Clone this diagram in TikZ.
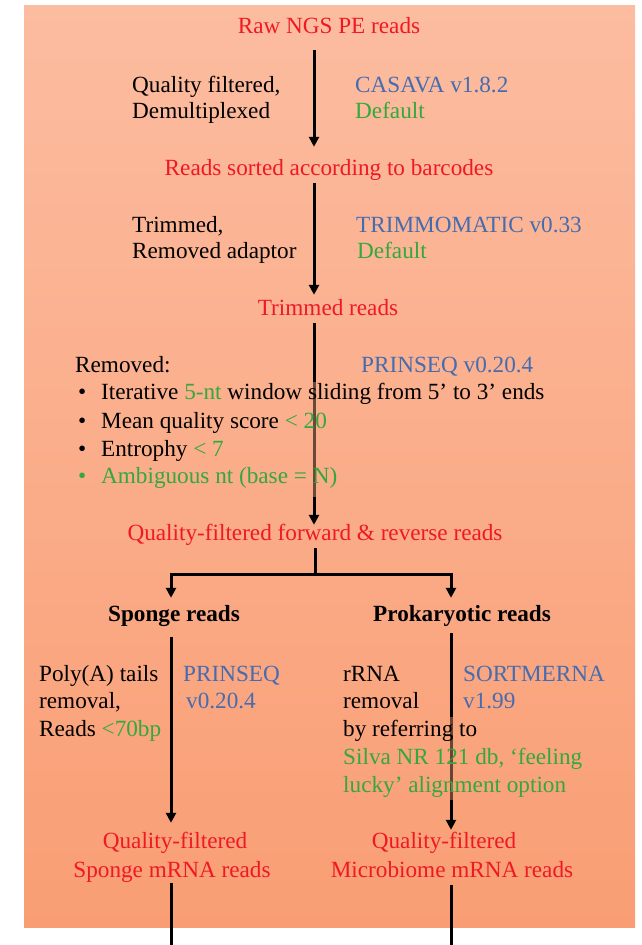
\documentclass[tikz,border=0pt]{standalone}
\usepackage{fontspec}
\setmainfont{Liberation Serif}
\usetikzlibrary{arrows.meta}
\pgfdeclarelayer{back}
\pgfdeclarelayer{mid}
\pgfsetlayers{back,mid,main}
\definecolor{tred}{RGB}{240,25,35}
\definecolor{tblue}{RGB}{70,108,176}
\definecolor{tgreen}{RGB}{52,168,60}
\definecolor{bgtop}{RGB}{252,188,160}
\definecolor{bgbot}{RGB}{249,158,116}
\definecolor{bgmida}{RGB}{251,174,139}
\definecolor{bgmidb}{RGB}{249,164,124}
\begin{document}
\fontsize{23.2}{27.6}\selectfont
\begin{tikzpicture}[x=1pt,y=-1pt,
  txt/.style={inner sep=0pt, text height=19pt, text depth=8pt},
  ctr/.style={txt, anchor=base},
  lft/.style={txt, anchor=base west},
  tr/.style={text=tred},
  tb/.style={text=tblue},
  tg/.style={text=tgreen},
  conn/.style={line width=3pt, draw=black},
  arr/.style={conn, -{Triangle[width=10pt,length=10pt]}},
  veil/.style={opacity=0.42}
]
\useasboundingbox (0,0) rectangle (641,945);

% ---- text nodes ----
\node[ctr,tr] (raw) at (329,33) {Raw NGS PE reads};
\node[lft] (qfl) at (132,92) {Quality filtered,};
\node[lft] (dmx) at (132,118) {Demultiplexed};
\node[lft,tb] (cas) at (355,92) {CASAVA v1.8.2};
\node[lft,tg] (defa) at (355,118) {Default};
\node[ctr,tr] (sorted) at (329,175) {Reads sorted according to barcodes};
\node[lft] (trm) at (132,232) {Trimmed,};
\node[lft] (rma) at (132,258) {Removed adaptor};
\node[lft,tb] (tmm) at (356,232) {TRIMMOMATIC v0.33};
\node[lft,tg] (defb) at (357,258) {Default};
\node[ctr,tr] (trimmed) at (328,315) {Trimmed reads};
\node[lft] (rem) at (75,372) {Removed:};
\node[lft,tb] (prs) at (361,372) {PRINSEQ v0.20.4};
\node[lft] (b1) at (78,399) {\makebox[23pt][l]{•}Iterative {\color{tgreen}5-nt} window sliding from 5’ to 3’ ends};
\node[lft] (b2) at (78,428) {\makebox[23pt][l]{•}Mean quality score {\color{tgreen}< 20}};
\node[lft] (b3) at (78,456) {\makebox[23pt][l]{•}Entrophy {\color{tgreen}< 7}};
\node[lft,tg] (b4) at (78,483) {\makebox[23pt][l]{•}Ambiguous nt (base = N)};
\node[ctr,tr] (qf) at (315,540) {Quality-filtered forward \& reverse reads};
\node[ctr,font=\bfseries] (sponge) at (174,621) {Sponge reads};
\node[ctr,font=\bfseries] (prok) at (462,621) {Prokaryotic reads};
\node[lft] (pa1) at (39,681) {Poly(A) tails};
\node[lft] (pa2) at (39,708) {removal,};
\node[lft] (pa3) at (39,736) {Reads {\color{tgreen}<70bp}};
\node[lft,tb] (ps1) at (183,681) {PRINSEQ};
\node[lft,tb] (ps2) at (186,708) {v0.20.4};
\node[lft] (rr1) at (343,681) {rRNA};
\node[lft] (rr2) at (343,708) {removal};
\node[lft] (rr3) at (343,736) {by referring to};
\node[lft,tg] (rr4) at (343,764) {Silva NR 121 db, ‘feeling};
\node[lft,tg] (rr5) at (343,792) {lucky’ alignment option};
\node[lft,tb] (sm1) at (463,681) {SORTMERNA};
\node[lft,tb] (sm2) at (463,708) {v1.99};
\node[ctr,tr] (qfs1) at (175,848) {Quality-filtered};
\node[ctr,tr] (qfs2) at (172,877) {Sponge mRNA reads};
\node[ctr,tr] (qfm1) at (444,848) {Quality-filtered};
\node[ctr,tr] (qfm2) at (452,877) {Microbiome mRNA reads};

% ---- coordinates ----
\coordinate (mx) at (314,0);
\coordinate (fork) at (315,574);
\coordinate (lx) at (171,0);
\coordinate (rx) at (451,0);
\coordinate (lb) at (171,947);
\coordinate (rb) at (451,947);

\begin{pgfonlayer}{back}
  \shade[top color=bgtop, bottom color=bgbot] (24,5) rectangle (635,927);
\end{pgfonlayer}

\begin{pgfonlayer}{mid}
  \draw[arr, shorten <=9pt, shorten >=9pt] (raw.south -| mx) -- (sorted.north -| mx);
  \draw[arr, shorten >=1pt] (sorted.south -| mx) -- (trimmed.north -| mx);
  \draw[arr, shorten >=-4pt] (trimmed.south -| mx) -- (qf.north -| mx);
  \draw[conn] (qf.south -| fork) -- (fork);
  \draw[arr, shorten >=4pt] (fork) -| (sponge.north -| lx);
  \draw[arr, shorten >=4pt] (fork) -| (prok.north -| rx);
  \draw[arr, shorten <=8pt, shorten >=6pt] (sponge.south -| lx) -- (qfs1.north -| lx);
  \draw[arr, shorten <=4pt, shorten >=-1pt] (prok.south -| rx) -- (qfm1.north -| rx);
  \draw[conn, shorten <=-2pt] (qfs2.south -| lx) -- (lb);
  \draw[conn] (qfm2.south -| rx) -- (rb);
  \fill[bgmida, veil] (309,382) rectangle (319,497);
  \fill[bgmidb, veil] (446,717) rectangle (456,800);
\end{pgfonlayer}
\end{tikzpicture}
\end{document}
